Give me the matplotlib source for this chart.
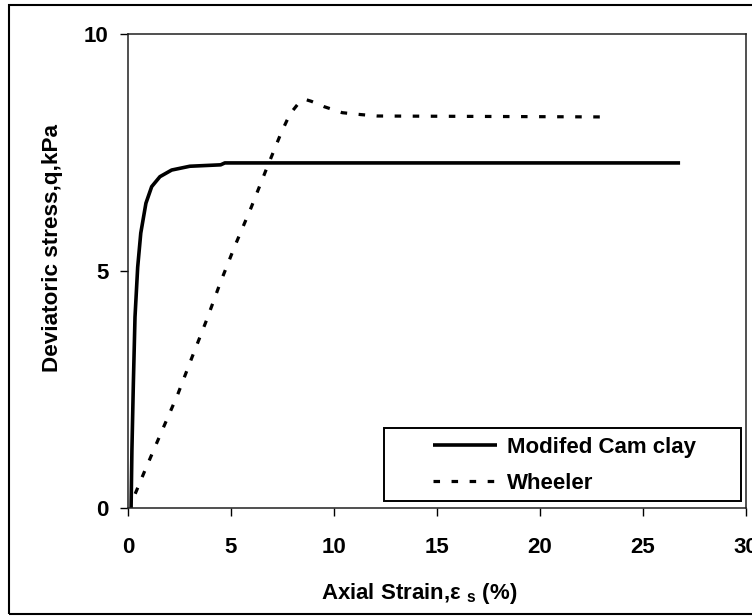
import matplotlib
matplotlib.use("Agg")
import matplotlib.pyplot as plt
from matplotlib.patches import Rectangle

plt.rcParams['font.family'] = ['Liberation Sans', 'DejaVu Sans']
plt.rcParams['font.weight'] = 'bold'
plt.rcParams['mathtext.fontset'] = 'custom'
plt.rcParams['mathtext.rm'] = 'Liberation Sans:bold'
plt.rcParams['mathtext.it'] = 'Liberation Sans:bold'
plt.rcParams['mathtext.bf'] = 'Liberation Sans:bold'

# Modified Cam clay prediction
mcc_strain = [0.15, 0.19, 0.26, 0.34, 0.47, 0.62, 0.87, 1.15, 1.55, 2.12, 3.0, 4.5, 4.7, 26.8]
mcc_q = [0.0, 1.22, 2.63, 4.03, 5.08, 5.8, 6.43, 6.78, 6.99, 7.13, 7.21, 7.24, 7.28, 7.28]

# Wheeler model prediction
wh_strain = [0.35, 0.83, 1.63, 2.4, 3.09, 3.82, 4.47, 5.19, 5.97, 6.7, 7.43, 7.86,
             8.3, 8.6, 8.9, 9.5, 10.4, 11.3, 12.1, 23.3]
wh_q = [0.3, 0.8, 1.61, 2.38, 3.16, 3.97, 4.74, 5.53, 6.33, 7.13, 7.91, 8.31,
        8.55, 8.62, 8.58, 8.47, 8.34, 8.3, 8.27, 8.25]

x_ticks = [0, 5, 10, 15, 20, 25, 30]
y_ticks = [0, 5, 10]
series_labels = ["Modifed Cam clay", "Wheeler"]

W, H = 752, 616
fig = plt.figure(figsize=(W / 100, H / 100), dpi=100)
ax = fig.add_axes([128 / W, 1 - 508 / H, (746 - 128) / W, (508 - 34) / H])

lw_mcc = 2.6
lw_wh = 2.3
l1, = ax.plot(mcc_strain, mcc_q, color='black', lw=lw_mcc, solid_joinstyle='round',
              solid_capstyle='butt')
l2, = ax.plot(wh_strain, wh_q, color='black', lw=lw_wh,
              linestyle=(0, (4.7 / lw_wh, 8.3 / lw_wh)), dash_capstyle='butt')

ax.set_xlim(0, 30)
ax.set_ylim(0, 10)
ax.set_xticks(x_ticks)
ax.set_yticks(y_ticks)
ax.tick_params(direction='out', length=5.8, width=1.0, labelsize=16, color='black')
ax.tick_params(axis='x', pad=15)
ax.tick_params(axis='y', pad=8)
for lab in ax.get_xticklabels() + ax.get_yticklabels():
    lab.set_fontweight('bold')
for sp in ax.spines.values():
    sp.set_linewidth(1.1)
    sp.set_color('#202020')

fig.text(53 / W, 1 - 248 / H, "Deviatoric stress,q,kPa", rotation=90, ha='center',
         va='center', fontsize=16.2, fontweight='bold')
fig.text(419 / W, 1 - 593 / H, r"Axial Strain,ε $_{\mathrm{s}}$ (%)", ha='center',
         va='center', fontsize=16, fontweight='bold')

# legend frame
ax.add_patch(Rectangle(((384 - 128) / 618, (508 - 501) / 474), (741 - 384) / 618,
                       (501 - 428) / 474, transform=ax.transAxes, fill=True,
                       facecolor='white', edgecolor='black', lw=1.4, zorder=5))
leg = ax.legend([l1, l2], series_labels, loc='upper left',
                bbox_to_anchor=((433 - 128) / 618, (508 - 437) / 474),
                frameon=False, handlelength=2.9, handletextpad=0.45,
                borderpad=0, borderaxespad=0, labelspacing=0.68,
                prop={'weight': 'bold', 'size': 16})
leg.set_zorder(6)

# outer figure border
fig.patches.append(Rectangle((9 / W, 2 / H), 1.05, 1 - 7 / H, transform=fig.transFigure,
                             fill=False, edgecolor='black', lw=1.5))

fig.savefig("out.png", dpi=100)
